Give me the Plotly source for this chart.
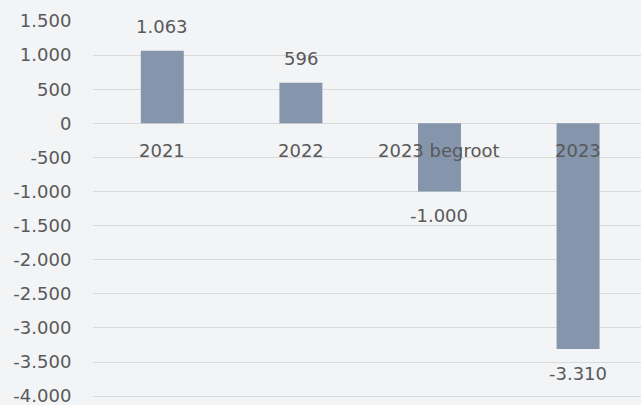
import plotly.graph_objects as go

categories = ["2021", "2022", "2023 begroot", "2023"]
values = [1063, 596, -1000, -3310]
tick_values = [1500, 1000, 500, 0, -500, -1000, -1500, -2000, -2500, -3000, -3500, -4000]


def nl(v):
    return f"{v:,}".replace(",", ".")


tick_labels = [nl(v) for v in tick_values]

FONT = "DejaVu Sans"
TXT = "#595959"
BG = "#F3F4F6"
FS = 18

fig = go.Figure()
fig.add_trace(go.Bar(
    x=categories, y=values, width=0.31,
    marker=dict(color="#8596AC", line=dict(width=0)),
    hoverinfo="skip",
))

annotations = []
for i, (c, v) in enumerate(zip(categories, values)):
    annotations.append(dict(
        x=i, y=v, text=nl(v), showarrow=False, xref="x", yref="y",
        yanchor="middle", yshift=24 if v >= 0 else -24,
        font=dict(family=FONT, size=FS, color=TXT),
    ))
    annotations.append(dict(
        x=i, y=0, text=c, showarrow=False, xref="x", yref="y",
        yanchor="middle", yshift=-27,
        font=dict(family=FONT, size=FS, color=TXT),
    ))

fig.update_layout(
    width=641, height=405,
    margin=dict(l=93, r=0, t=21, b=0),
    paper_bgcolor=BG, plot_bgcolor=BG,
    showlegend=False,
    annotations=annotations,
    xaxis=dict(type="category", showticklabels=False, showgrid=False,
               zeroline=False, showline=False, ticks="",
               range=[-0.5, 3.454]),
    yaxis=dict(range=[-4130, 1500], tickmode="array", tickvals=tick_values,
               ticktext=tick_labels, showgrid=True, gridcolor="#D9D9D9",
               gridwidth=1.3, zeroline=True, zerolinecolor="#D9D9D9",
               zerolinewidth=1.3, showline=False, ticks="outside",
               ticklen=17, tickcolor="rgba(0,0,0,0)",
               ticklabeloverflow="allow",
               tickfont=dict(family=FONT, size=FS, color=TXT)),
)

fig.write_html("out.html", config={"displayModeBar": False},
               post_script="document.body.style.margin='0';")
